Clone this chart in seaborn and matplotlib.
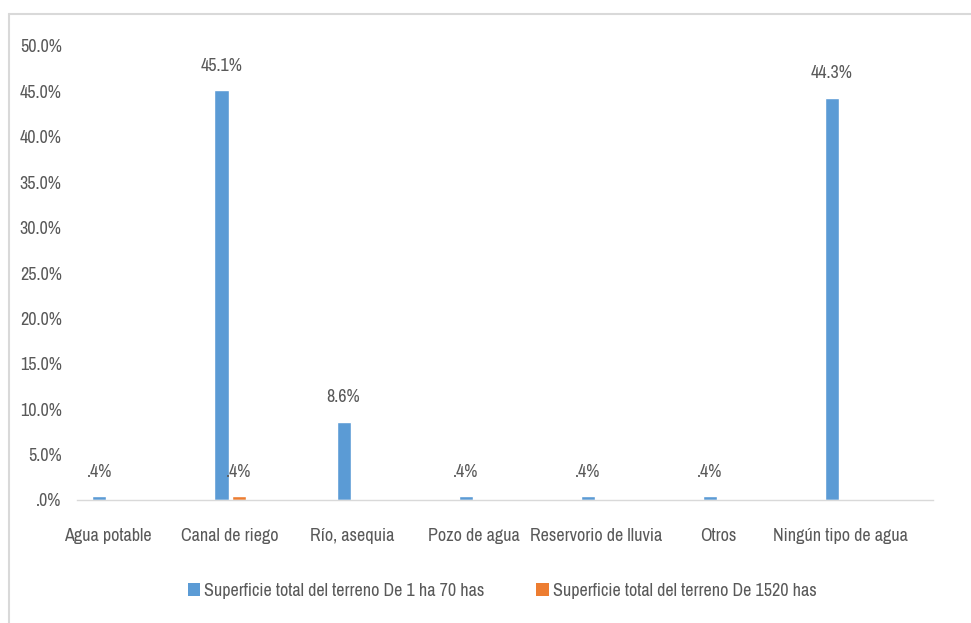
import matplotlib
matplotlib.use("Agg")
import matplotlib.pyplot as plt
import matplotlib.ticker as mticker
from matplotlib.lines import Line2D
from matplotlib.patches import Patch
from matplotlib import font_manager as fm
import seaborn as sns
import pandas as pd

categories = ["Agua potable", "Canal de riego", "Río, asequia", "Pozo de agua",
              "Reservorio de lluvia", "Otros", "Ningún tipo de agua"]
series_names = ["Superficie total del terreno De 1 ha 70 has",
                "Superficie total del terreno De 1520 has"]
serie1 = [0.4, 45.1, 8.6, 0.4, 0.4, 0.4, 44.3]
serie2 = [0.0, 0.4, 0.0, 0.0, 0.0, 0.0, 0.0]
y_ticks = [0, 5, 10, 15, 20, 25, 30, 35, 40, 45, 50]

colors = ["#5B9BD5", "#ED7D31"]
text_color = "#595959"

sns.set_theme(style="white")

# look for a condensed face if one is installed
narrow = None
for f in fm.fontManager.ttflist:
    n = f.name.lower()
    if ("narrow" in n or "condensed" in n) and "bold" not in f.style:
        narrow = f.name
        break
if narrow:
    plt.rcParams['font.family'] = [narrow, 'DejaVu Sans']
    FS = 13
else:
    plt.rcParams['font.family'] = ['Liberation Sans', 'DejaVu Sans']
    FS = 11

df = pd.DataFrame({
    "cat": categories * 2,
    "serie": [series_names[0]] * len(categories) + [series_names[1]] * len(categories),
    "val": serie1 + serie2,
})

fig = plt.figure(figsize=(9.71, 6.23), dpi=100)
ax = fig.add_axes([77/971, 1 - 500/623, (933-77)/971, (500-46)/623])

sns.barplot(data=df, x="cat", y="val", hue="serie", palette=colors,
            order=categories, hue_order=series_names,
            width=0.28, gap=0.18, ax=ax, legend=False, saturation=1)

ax.set_xlim(-0.254, 6.76)
ax.set_ylim(0, 50)
ax.set_yticks(y_ticks)

def pct(v, pos=None):
    s = f"{v:.1f}%"
    if s.startswith("0"):
        s = s[1:]
    return s

ax.yaxis.set_major_formatter(mticker.FuncFormatter(pct))
ax.set_xlabel("")
ax.set_ylabel("")
for sp in ["top", "right", "left"]:
    ax.spines[sp].set_visible(False)
ax.spines["bottom"].set_color("#D9D9D9")
ax.spines["bottom"].set_linewidth(1.0)
ax.tick_params(axis="x", length=0, pad=20, labelsize=FS, labelcolor=text_color)
ax.tick_params(axis="y", length=0, pad=11, labelsize=FS, labelcolor=text_color)

# data labels
for container, vals in zip(ax.containers, [serie1, serie2]):
    for bar, v in zip(container, vals):
        if v <= 0:
            continue
        ax.annotate(pct(v), (bar.get_x() + bar.get_width() / 2, bar.get_height()),
                    xytext=(0, 12), textcoords="offset points",
                    ha="center", va="bottom", fontsize=FS, color=text_color)

# legend
handles = [Patch(facecolor=c, edgecolor="none") for c in colors]
fig.legend(handles, series_names, loc="center", bbox_to_anchor=(502/971, 1 - 591/623),
           ncol=2, frameon=False, fontsize=FS, labelcolor=text_color,
           handlelength=0.7, handleheight=0.7, handletextpad=0.2, columnspacing=2.9)

# chart frame (top and left)
fig.add_artist(Line2D([9/971, 1.0], [1 - 14/623, 1 - 14/623], color="#D9D9D9", lw=1.5,
                      transform=fig.transFigure))
fig.add_artist(Line2D([9/971, 9/971], [0.0, 1 - 14/623], color="#D9D9D9", lw=1.5,
                      transform=fig.transFigure))

fig.savefig("out.png", dpi=100)
